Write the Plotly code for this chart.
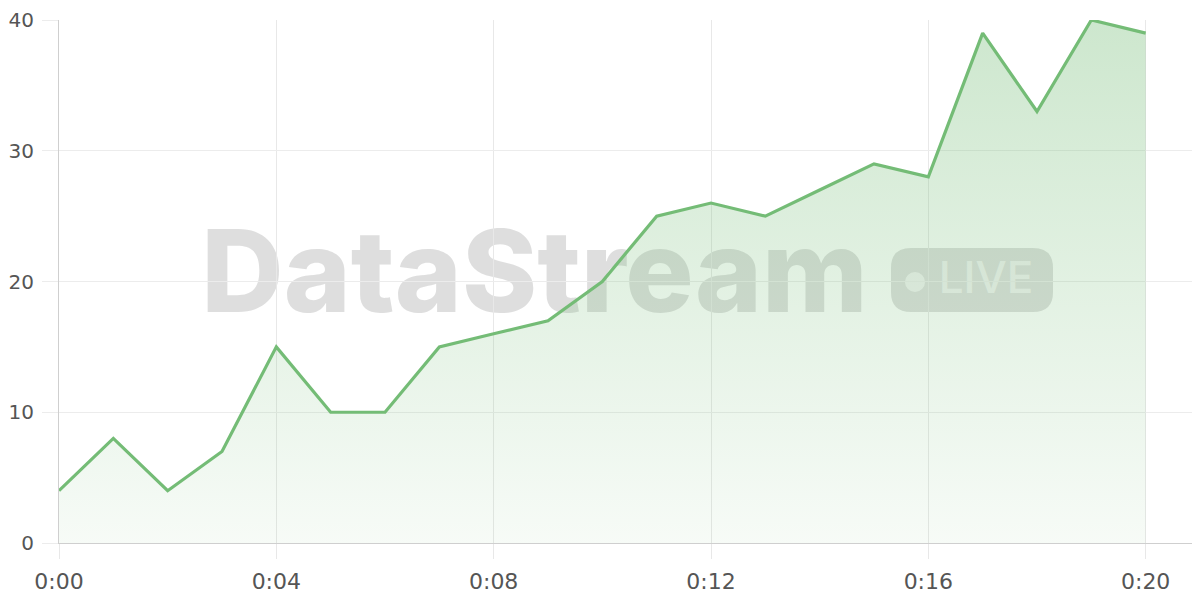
import plotly.graph_objects as go

# Datos de la serie (minutos y valores)
minutos = list(range(21))
valores = [4, 8, 4, 7, 15, 10, 10, 15, 16, 17, 20, 25, 26, 25, 27, 29, 28, 39, 33, 40, 39]
ticks_x = [0, 4, 8, 12, 16, 20]
etiquetas_x = ["0:00", "0:04", "0:08", "0:12", "0:16", "0:20"]
ticks_y = [0, 10, 20, 30, 40]

verde = "rgb(116,188,118)"

fig = go.Figure()

fig.add_trace(go.Scatter(
    x=minutos, y=valores, mode="lines",
    line=dict(color=verde, width=3.2),
    fill="tozeroy",
    fillgradient=dict(
        type="vertical", start=0, stop=40,
        colorscale=[[0, "rgba(116,188,118,0.06)"], [1, "rgba(116,188,118,0.36)"]],
    ),
    hoverinfo="skip",
))

# Marca de agua "DataStream" + insignia LIVE, por debajo de la serie
# (posiciones en fracción del área de trazado: 1141 x 523 px)
gris = "rgba(100,100,100,0.21)"
fig.add_shape(
    type="rect", xref="paper", yref="paper",
    x0=(207 - 59) / 1141, x1=(862 - 59) / 1141,
    y0=(543 - 308) / 523, y1=(543 - 225) / 523,
    line=dict(width=0), fillcolor="rgba(0,0,0,0)", layer="below",
    label=dict(text="DataStream", textposition="middle center",
               font=dict(family="Inter", size=114, color=gris, weight=800)),
)
r = 20
w, h = 81, 32
camino = (f"M {-w + r},{-h} L {w - r},{-h} Q {w},{-h} {w},{-h + r} "
          f"L {w},{h - r} Q {w},{h} {w - r},{h} L {-w + r},{h} "
          f"Q {-w},{h} {-w},{h - r} L {-w},{-h + r} Q {-w},{-h} {-w + r},{-h} Z")
fig.add_shape(
    type="path", xref="paper", yref="paper",
    xsizemode="pixel", ysizemode="pixel",
    xanchor=(972 - 59) / 1141, yanchor=(543 - 280) / 523,
    path=camino, line=dict(width=0), fillcolor=gris, layer="below",
)
fig.add_shape(
    type="circle", xref="paper", yref="paper",
    xsizemode="pixel", ysizemode="pixel",
    xanchor=(915 - 59) / 1141, yanchor=(543 - 282) / 523,
    x0=-10, x1=10, y0=-10, y1=10,
    line=dict(width=0), fillcolor="rgba(255,255,255,0.62)", layer="below",
)
fig.add_shape(
    type="rect", xref="paper", yref="paper",
    x0=(936 - 59) / 1141, x1=(1036 - 59) / 1141,
    y0=(543 - 294) / 523, y1=(543 - 258) / 523,
    line=dict(width=0), fillcolor="rgba(0,0,0,0)", layer="below",
    label=dict(text="LIVE", textposition="middle center",
               font=dict(family="Inter", size=44, color="rgba(255,255,255,0.62)", weight=500)),
)

# La página deja 8 px de margen en el body: se compensa en los márgenes
fig.update_layout(
    width=1200, height=600,
    margin=dict(l=51, r=8, t=12, b=65),
    plot_bgcolor="white", paper_bgcolor="white",
    showlegend=False,
    font=dict(family="DejaVu Sans", size=22, color="#555"),
)
fig.update_xaxes(
    range=[0, 21], tickvals=ticks_x, ticktext=etiquetas_x,
    showgrid=True, gridcolor="#e8e8e8", gridwidth=1,
    showline=True, linecolor="#cfcfcf", linewidth=1,
    ticks="outside", ticklen=15, tickcolor="#e8e8e8",
    ticklabelstandoff=4, zeroline=False, automargin=False,
    ticklabeloverflow="allow",
)
fig.update_yaxes(
    range=[0, 40], tickvals=ticks_y,
    showgrid=True, gridcolor="#ececec", gridwidth=1,
    showline=True, linecolor="#cfcfcf", linewidth=1,
    ticks="outside", ticklen=16, tickcolor="#ececec",
    ticklabelstandoff=4, zeroline=False, automargin=False,
    ticklabeloverflow="allow", tickfont=dict(size=20),
)

fig.write_html("out.html")
